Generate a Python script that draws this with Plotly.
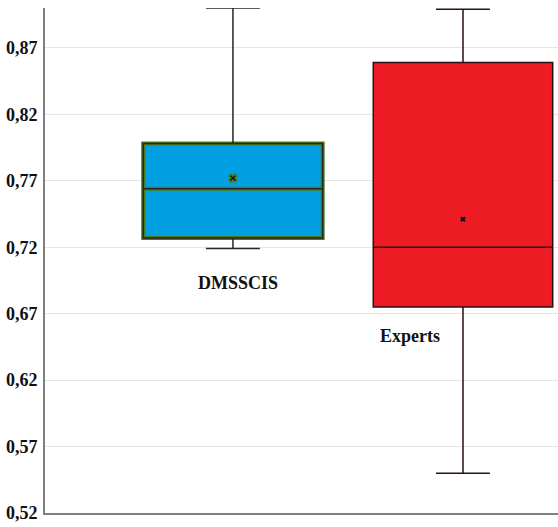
import plotly.graph_objects as go

# Box statistics per group
groups = ["DMSSCIS", "Experts"]
lower_fence = [0.719, 0.550]
q1 = [0.727, 0.675]
median = [0.764, 0.720]
q3 = [0.798, 0.859]
upper_fence = [0.900, 0.899]
mean = [0.772, 0.741]

tick_vals = [0.52, 0.57, 0.62, 0.67, 0.72, 0.77, 0.82, 0.87]
tick_text = ["0,52", "0,57", "0,62", "0,67", "0,72", "0,77", "0,82", "0,87"]

fills = ["#00A0E3", "#ED1C24"]
xpos = [0, 1]
box_w = 0.78

fig = go.Figure()

# DMSSCIS: green-edged fill underneath, dark outline + whiskers on top
fig.add_trace(go.Box(
    x=[xpos[0]], q1=[q1[0]], median=[median[0]], q3=[q3[0]],
    lowerfence=[q1[0]], upperfence=[q3[0]],
    fillcolor=fills[0], line=dict(color="#4b7a1e", width=4),
    width=box_w, whiskerwidth=0, boxpoints=False, showlegend=False,
    hoverinfo="skip",
))
fig.add_trace(go.Box(
    x=[xpos[0]], q1=[q1[0]], median=[median[0]], q3=[q3[0]],
    lowerfence=[lower_fence[0]], upperfence=[upper_fence[0]],
    fillcolor="rgba(0,0,0,0)", line=dict(color="#262626", width=1.5),
    width=box_w, whiskerwidth=0.3, boxpoints=False, showlegend=False,
))

# Experts
fig.add_trace(go.Box(
    x=[xpos[1]], q1=[q1[1]], median=[median[1]], q3=[q3[1]],
    lowerfence=[lower_fence[1]], upperfence=[upper_fence[1]],
    fillcolor=fills[1], line=dict(color="#2a1010", width=1.5),
    width=box_w, whiskerwidth=0.3, boxpoints=False, showlegend=False,
))

# Mean markers
fig.add_trace(go.Scatter(
    x=[xpos[0]], y=[mean[0]], mode="markers",
    marker=dict(symbol="x", size=7, color="#111111",
                line=dict(color="#4b7a1e", width=1.5)),
    showlegend=False,
))
fig.add_trace(go.Scatter(
    x=[xpos[1]], y=[mean[1]], mode="markers",
    marker=dict(symbol="x", size=5, color="#111111", line=dict(width=0)),
    showlegend=False,
))

# Group labels
label_font = dict(family="Liberation Serif", size=18, color="#111111")
fig.add_annotation(x=0.02, y=0.6934, text="<b>" + groups[0] + "</b>",
                   showarrow=False, font=label_font)
fig.add_annotation(x=0.768, y=0.6533, text="<b>" + groups[1] + "</b>",
                   showarrow=False, font=label_font)

fig.update_layout(
    width=558, height=527,
    margin=dict(l=45, r=0, t=8, b=14),
    paper_bgcolor="white", plot_bgcolor="white",
    boxmode="overlay",
    xaxis=dict(range=[-0.817, 1.413], showgrid=False, zeroline=False,
               showticklabels=False, ticks="", showline=True,
               linecolor="#7f7f7f", linewidth=2, fixedrange=True),
    yaxis=dict(range=[0.52, 0.90], tickvals=tick_vals, ticktext=tick_text,
               showgrid=True, gridcolor="#e6e6e6", gridwidth=1,
               zeroline=False, showline=True, linecolor="#7f7f7f",
               linewidth=2, ticks="", ticklabelstandoff=2,
               tickfont=dict(family="Liberation Serif", size=18,
                             color="#111111", weight="bold")),
)

fig.write_html("out.html")
